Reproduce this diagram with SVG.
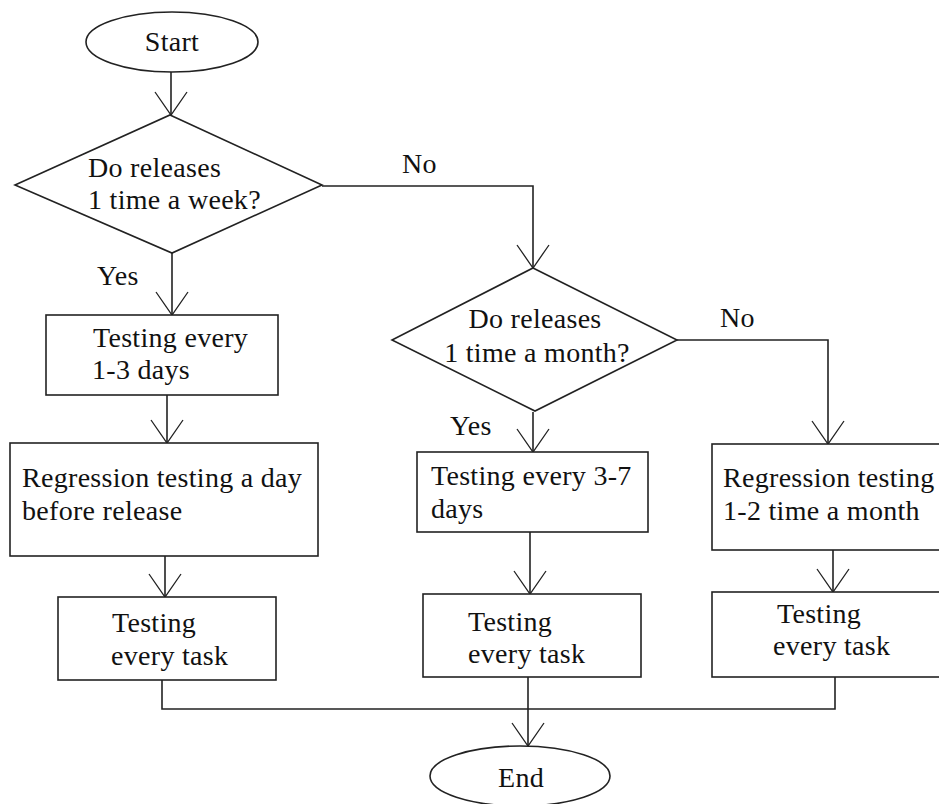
<svg xmlns="http://www.w3.org/2000/svg" width="939" height="804" viewBox="0 0 939 804">
<style>
.s{fill:#fff;stroke:#222;stroke-width:1.6}
.c{fill:none;stroke:#222;stroke-width:1.6}
text{font-family:"Liberation Serif","Times New Roman",serif;font-size:28px;letter-spacing:0.3px;fill:#111}
.m{text-anchor:middle}
</style>
<defs>
<marker id="ah" markerUnits="userSpaceOnUse" markerWidth="40" markerHeight="40" refX="0" refY="0" orient="auto" overflow="visible">
<path d="M-23,-16 L0,0 L-23,16" fill="none" stroke="#222" stroke-width="1.3"/>
</marker>
</defs>
<rect width="939" height="804" fill="#fff"/>
<g id="connectors">
<path class="c" d="M171,72 V115" marker-end="url(#ah)"/>
<path class="c" d="M322,186 H533 V268" marker-end="url(#ah)"/>
<path class="c" d="M172,253 V315" marker-end="url(#ah)"/>
<path class="c" d="M167,395 V443" marker-end="url(#ah)"/>
<path class="c" d="M165,556 V597" marker-end="url(#ah)"/>
<path class="c" d="M533,412 V452" marker-end="url(#ah)"/>
<path class="c" d="M530,532 V594" marker-end="url(#ah)"/>
<path class="c" d="M677,340 H828 V444" marker-end="url(#ah)"/>
<path class="c" d="M833,550 V592" marker-end="url(#ah)"/>
<path class="c" d="M162,680 V709 H835 V677"/>
<path class="c" d="M528,677 V746" marker-end="url(#ah)"/>
</g>
<g id="start">
<ellipse class="s" cx="172" cy="42" rx="86" ry="30"/>
<text class="m" x="172" y="51">Start</text>
</g>
<g id="decision1">
<polygon class="s" points="170,115 322,185 172,253 15,185"/>
<text x="88" y="177">Do releases</text>
<text x="88" y="209">1 time a week?</text>
</g>
<g id="label-no1"><text x="402" y="173">No</text></g>
<g id="label-yes1"><text x="97" y="285">Yes</text></g>
<g id="box-test13">
<rect class="s" x="46" y="315" width="232" height="80"/>
<text x="93" y="347">Testing every</text>
<text x="92" y="379">1-3 days</text>
</g>
<g id="box-regress-day">
<rect class="s" x="10" y="443" width="308" height="113"/>
<text x="22" y="487">Regression testing a day</text>
<text x="22" y="520">before release</text>
</g>
<g id="box-task-left">
<rect class="s" x="58" y="597" width="218" height="83"/>
<text x="112" y="632">Testing</text>
<text x="111" y="665">every task</text>
</g>
<g id="decision2">
<polygon class="s" points="533,268 677,340 535,411 392,340"/>
<text class="m" x="535" y="328">Do releases</text>
<text class="m" x="537" y="362">1 time a month?</text>
</g>
<g id="label-no2"><text x="720" y="327">No</text></g>
<g id="label-yes2"><text x="450" y="435">Yes</text></g>
<g id="box-test37">
<rect class="s" x="417" y="452" width="231" height="80"/>
<text x="431" y="485">Testing every 3-7</text>
<text x="431" y="518">days</text>
</g>
<g id="box-task-mid">
<rect class="s" x="423" y="594" width="218" height="83"/>
<text x="468" y="631">Testing</text>
<text x="468" y="663">every task</text>
</g>
<g id="box-regress-month">
<rect class="s" x="712" y="444" width="240" height="106"/>
<text x="723" y="487">Regression testing</text>
<text x="723" y="520">1-2 time a month</text>
</g>
<g id="box-task-right">
<rect class="s" x="712" y="592" width="240" height="85"/>
<text x="777" y="623">Testing</text>
<text x="773" y="655">every task</text>
</g>
<g id="end">
<ellipse class="s" cx="520" cy="776" rx="90" ry="30"/>
<text class="m" x="521" y="787">End</text>
</g>
</svg>
